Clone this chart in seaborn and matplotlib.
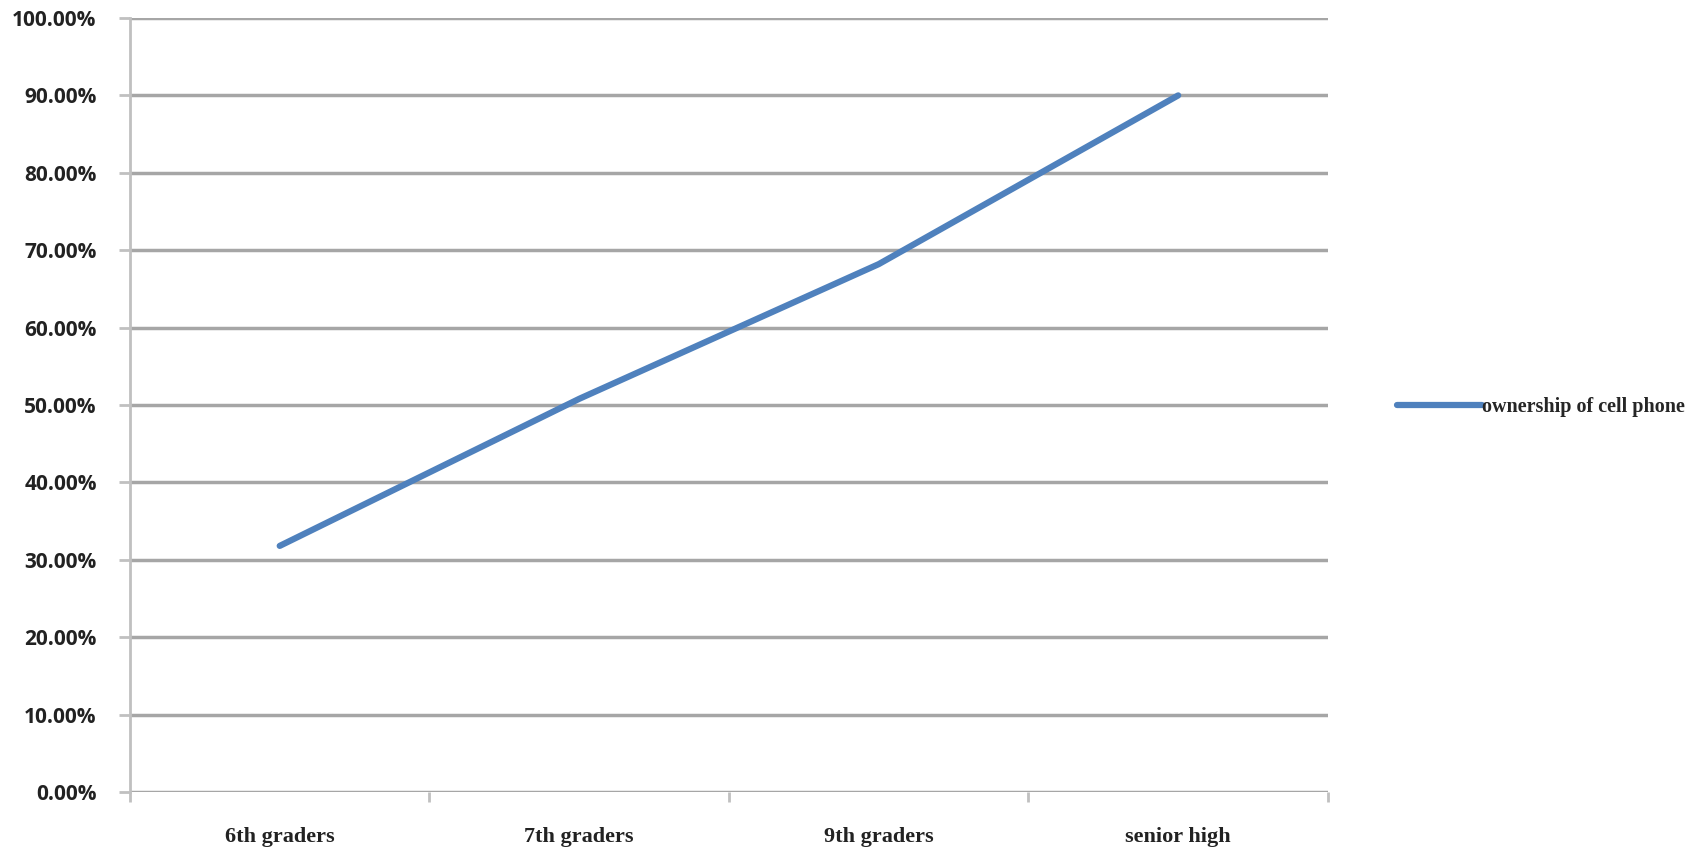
import numpy as np
import pandas as pd
import seaborn as sns
import matplotlib.pyplot as plt
from matplotlib.ticker import FixedLocator, FuncFormatter

grades = ["6th graders", "7th graders", "9th graders", "senior high"]
ownership = [31.8, 50.8, 68.2, 90.0]
series_name = "ownership of cell phone"
y_ticks = list(range(0, 101, 10))

df = pd.DataFrame({"grade": grades, "pct": ownership})

sns.set_theme(style="white")
plt.rcParams["font.family"] = ["Liberation Serif", "DejaVu Serif"]

fig = plt.figure(figsize=(16.99, 8.49), dpi=100)
ax = fig.add_axes([0.0765, 0.0671, 0.7051, 0.9117])

sns.lineplot(data=df, x="grade", y="pct", ax=ax, color="#4f81bd",
             linewidth=4.5, solid_capstyle="round", label=series_name, sort=False)

ax.set_xlim(-0.5, 3.5)
ax.set_ylim(0, 100)
ax.set_yticks(y_ticks)
ax.yaxis.set_major_formatter(FuncFormatter(lambda v, p: f"{v:.2f}%"))
ax.grid(axis="y", color="#a6a6a6", linewidth=2.5)
ax.set_axisbelow(True)

for side in ["top", "right", "bottom"]:
    ax.spines[side].set_visible(False)
ax.spines["left"].set_color("#c0c0c0")
ax.spines["left"].set_linewidth(2)

ax.tick_params(axis="y", which="major", length=8, width=2, color="#c0c0c0",
               left=True, direction="out", pad=16)
for lab in ax.get_yticklabels():
    lab.set_family(["Open Sans", "DejaVu Sans"])
    lab.set_fontweight("bold")
    lab.set_fontsize(15)
    lab.set_color("#222222")

ax.xaxis.set_minor_locator(FixedLocator(np.arange(-0.5, 4.0, 1.0)))
ax.tick_params(axis="x", which="major", length=0, pad=25)
ax.tick_params(axis="x", which="minor", length=7, width=2, color="#c0c0c0",
               bottom=True, direction="out")
for lab in ax.get_xticklabels():
    lab.set_fontweight("bold")
    lab.set_fontsize(16)
    lab.set_color("#222222")

ax.set_xlabel("")
ax.set_ylabel("")

leg = ax.legend(loc="center left", bbox_to_anchor=(0.8225, 0.521), bbox_transform=fig.transFigure,
                frameon=False, handlelength=4.2, handletextpad=0.0, borderaxespad=0,
                borderpad=0,
                prop={"family": "Liberation Serif", "weight": "bold", "size": 14.5})

fig.savefig("out.png", dpi=100)
